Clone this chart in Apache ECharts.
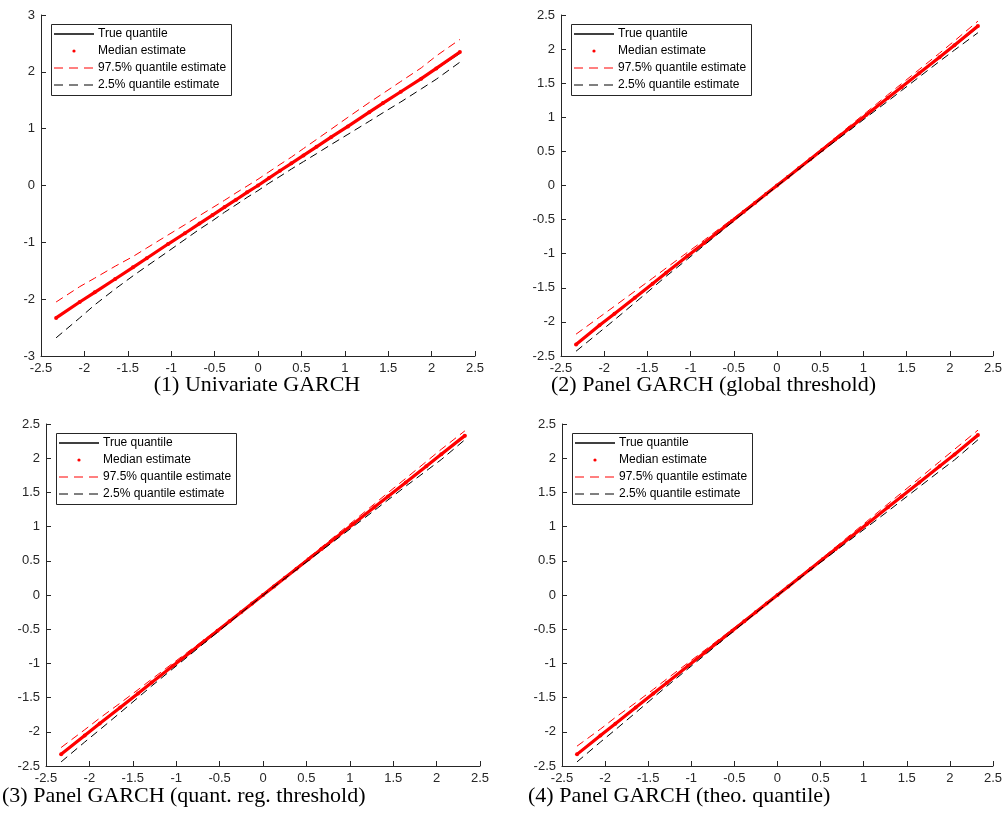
<!DOCTYPE html>
<html>
<head>
<meta charset="utf-8">
<script src="https://cdn.jsdelivr.net/npm/echarts@6/dist/echarts.min.js"></script>
<style>html,body{margin:0;padding:0;background:#fff}#c{width:1005px;height:826px}</style>
</head>
<body>
<div id="c"></div>
<script>
// ---- data ----
const panelTitles = ['(1) Univariate GARCH','(2) Panel GARCH (global threshold)','(3) Panel GARCH (quant. reg. threshold)','(4) Panel GARCH (theo. quantile)'];
const legendNames = ['True quantile','Median estimate','97.5% quantile estimate','2.5% quantile estimate'];
const xTicks = [-2.5,-2,-1.5,-1,-0.5,0,0.5,1,1.5,2,2.5];
const yRange1 = [-3, 3];
const yRange234 = [-2.5, 2.5];
const xTrue = [-2.326, 2.326];
const yTrue = [-2.326, 2.326];
const xq = [-2.326,-2.054,-1.881,-1.645,-1.440,-1.282,-1.036,-0.842,-0.674,-0.524,-0.385,-0.253,-0.126,0,0.126,0.253,0.385,0.524,0.674,0.842,1.036,1.282,1.440,1.645,1.881,2.054,2.326];

const p1Upper  = [-2.05,-1.78,-1.63,-1.42,-1.25,-1.10,-0.87,-0.69,-0.53,-0.39,-0.26,-0.13,-0.01,0.11,0.24,0.37,0.50,0.65,0.81,0.99,1.20,1.46,1.62,1.83,2.07,2.28,2.57];
const p1Median = [-2.33,-2.05,-1.88,-1.645,-1.44,-1.28,-1.03,-0.84,-0.67,-0.52,-0.38,-0.25,-0.12,0.0,0.13,0.26,0.39,0.53,0.68,0.85,1.04,1.29,1.45,1.65,1.88,2.06,2.35];
const p1Lower  = [-2.68,-2.33,-2.10,-1.82,-1.59,-1.42,-1.16,-0.95,-0.77,-0.62,-0.47,-0.34,-0.21,-0.09,0.04,0.16,0.29,0.42,0.56,0.72,0.90,1.13,1.28,1.47,1.70,1.87,2.17];

const p2Upper  = [-2.18,-1.93,-1.77,-1.55,-1.36,-1.21,-0.98,-0.80,-0.64,-0.50,-0.365,-0.24,-0.115,0.01,0.135,0.265,0.40,0.545,0.70,0.875,1.075,1.33,1.49,1.70,1.94,2.12,2.41];
const p2Median = [-2.33,-2.05,-1.88,-1.645,-1.44,-1.28,-1.035,-0.842,-0.674,-0.524,-0.385,-0.253,-0.126,0.0,0.126,0.253,0.385,0.524,0.674,0.842,1.036,1.282,1.44,1.645,1.88,2.055,2.34];
const p2Lower  = [-2.43,-2.15,-1.97,-1.72,-1.50,-1.33,-1.08,-0.875,-0.70,-0.545,-0.40,-0.265,-0.135,-0.01,0.115,0.24,0.37,0.505,0.65,0.81,1.00,1.235,1.39,1.59,1.82,1.985,2.24];

const p3Upper  = [-2.23,-1.97,-1.80,-1.58,-1.385,-1.23,-0.995,-0.81,-0.65,-0.505,-0.37,-0.243,-0.12,0.006,0.133,0.263,0.40,0.545,0.70,0.875,1.075,1.33,1.495,1.705,1.95,2.13,2.40];
const p3Median = [-2.33,-2.055,-1.88,-1.645,-1.44,-1.28,-1.036,-0.842,-0.674,-0.524,-0.385,-0.253,-0.126,0.0,0.126,0.253,0.385,0.524,0.674,0.842,1.036,1.282,1.44,1.645,1.882,2.056,2.33];
const p3Lower  = [-2.44,-2.15,-1.97,-1.72,-1.50,-1.33,-1.075,-0.875,-0.70,-0.545,-0.40,-0.263,-0.133,-0.006,0.12,0.243,0.37,0.505,0.65,0.81,0.997,1.235,1.39,1.59,1.815,1.98,2.27];

const p4Upper  = [-2.21,-1.96,-1.79,-1.575,-1.38,-1.225,-0.99,-0.805,-0.645,-0.50,-0.368,-0.24,-0.118,0.007,0.134,0.264,0.40,0.545,0.70,0.876,1.076,1.332,1.495,1.705,1.95,2.13,2.41];
const p4Median = [-2.33,-2.054,-1.881,-1.645,-1.44,-1.282,-1.036,-0.842,-0.674,-0.524,-0.385,-0.253,-0.126,0.0,0.126,0.253,0.385,0.524,0.674,0.842,1.036,1.282,1.44,1.645,1.881,2.054,2.34];
const p4Lower  = [-2.44,-2.15,-1.97,-1.72,-1.50,-1.332,-1.076,-0.876,-0.70,-0.545,-0.40,-0.264,-0.134,-0.007,0.118,0.24,0.368,0.50,0.645,0.805,0.99,1.225,1.38,1.58,1.81,1.975,2.27];

const panels = [
  {upper:p1Upper, median:p1Median, lower:p1Lower, yr:yRange1, yi:1},
  {upper:p2Upper, median:p2Median, lower:p2Lower, yr:yRange234, yi:0.5},
  {upper:p3Upper, median:p3Median, lower:p3Lower, yr:yRange234, yi:0.5},
  {upper:p4Upper, median:p4Median, lower:p4Lower, yr:yRange234, yi:0.5}
];

// ---- layout ----
const grids = [
  {left:41, top:15, width:434, height:341},
  {left:561, top:15, width:434, height:341},
  {left:46, top:424, width:434, height:342},
  {left:562, top:424, width:433, height:342}
];
// [x, y, align]
const titlePos = [[257,385,'center'],[551,385,'left'],[2,796,'left'],[528,796,'left']];
const AX = '#262626';
const FONT = '"Liberation Sans", Arial, sans-serif';

const zip = (a,b) => a.map((v,i)=>[v,b[i]]);

const option = {
  animation:false,
  backgroundColor:'#fff',
  grid: grids.map(g=>Object.assign({containLabel:false}, g)),
  xAxis: grids.map((g,i)=>({
    gridIndex:i, type:'value', min:-2.5, max:2.5, interval:0.5,
    axisLine:{onZero:false, lineStyle:{color:AX, width:1}},
    axisTick:{inside:true, length:5, lineStyle:{color:AX}},
    axisLabel:{color:AX, fontSize:13, fontFamily:FONT, margin:6, showMinLabel:true, showMaxLabel:true},
    splitLine:{show:false}
  })),
  yAxis: panels.map((p,i)=>({
    gridIndex:i, type:'value', min:p.yr[0], max:p.yr[1], interval:p.yi,
    axisLine:{show:true, onZero:false, lineStyle:{color:AX, width:1}},
    axisTick:{show:true, inside:true, length:5, lineStyle:{color:AX}},
    axisLabel:{color:AX, fontSize:13, fontFamily:FONT, margin:6, showMinLabel:true, showMaxLabel:true},
    splitLine:{show:false}
  })),
  series: [],
  graphic: []
};

panels.forEach((p,i)=>{
  option.series.push({
    type:'line', name:legendNames[0], xAxisIndex:i, yAxisIndex:i, z:2,
    data: zip(xTrue, yTrue), showSymbol:false, symbol:'none',
    lineStyle:{color:'#000', width:1.3}
  });
  option.series.push({
    type:'line', name:legendNames[1], xAxisIndex:i, yAxisIndex:i, z:3,
    data: zip(xq, p.median), symbol:'circle', symbolSize:4, showSymbol:true,
    itemStyle:{color:'#ff0000'}, lineStyle:{color:'#ff0000', width:3.2}
  });
  option.series.push({
    type:'line', name:legendNames[2], xAxisIndex:i, yAxisIndex:i, z:4,
    data: zip(xq, p.upper), symbol:'none',
    lineStyle:{color:'#ff0000', width:1, type:[8,5]}
  });
  option.series.push({
    type:'line', name:legendNames[3], xAxisIndex:i, yAxisIndex:i, z:5,
    data: zip(xq, p.lower), symbol:'none',
    lineStyle:{color:'#000', width:1, type:[8,5]}
  });

  // legend box
  const g = grids[i];
  const lx = g.left + 10, ly = g.top + 9;
  const rows = [10, 27, 44, 61];
  const children = [
    {type:'rect', shape:{x:0.5, y:0.5, width:180, height:71}, style:{fill:'#fff', stroke:AX, lineWidth:1}},
    {type:'line', shape:{x1:3, y1:rows[0], x2:43, y2:rows[0]}, style:{stroke:'#000', lineWidth:1.5}},
    {type:'circle', shape:{cx:23, cy:rows[1], r:1.6}, style:{fill:'#ff0000'}},
    {type:'line', shape:{x1:3, y1:rows[2], x2:43, y2:rows[2]}, style:{stroke:'#ff0000', lineWidth:1, lineDash:[9,6]}},
    {type:'line', shape:{x1:3, y1:rows[3], x2:43, y2:rows[3]}, style:{stroke:'#000', lineWidth:1, lineDash:[9,6]}}
  ];
  legendNames.forEach((n,k)=>{
    children.push({type:'text', x:47, y:rows[k], style:{text:n, fill:'#000', font:'12px '+FONT, textVerticalAlign:'middle', verticalAlign:'middle'}});
  });
  option.graphic.push({type:'group', x:lx, y:ly, z:100, children});

  option.graphic.push({
    type:'text', x:titlePos[i][0], y:titlePos[i][1], z:100,
    style:{text:panelTitles[i], fill:'#000', font:'22px "Liberation Serif", "DejaVu Serif", serif', align:titlePos[i][2], verticalAlign:'middle', textAlign:titlePos[i][2], textVerticalAlign:'middle'}
  });
});

const chart = echarts.init(document.getElementById('c'), null, {renderer:'canvas'});
chart.setOption(option);
</script>
</body>
</html>
